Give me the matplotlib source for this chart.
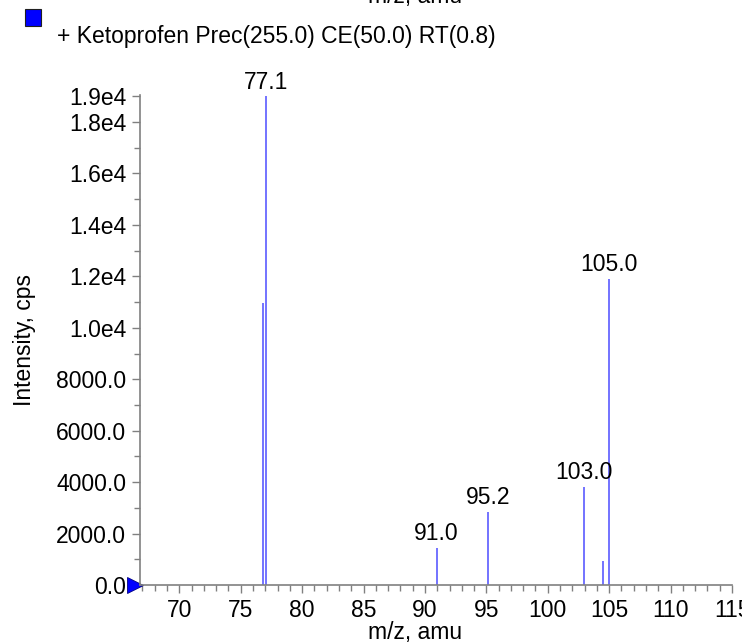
import matplotlib
matplotlib.use("Agg")
import matplotlib.pyplot as plt
import matplotlib.transforms as mtransforms
from matplotlib.ticker import MultipleLocator, FixedLocator, FuncFormatter

plt.rcParams["font.family"] = ["Liberation Sans", "DejaVu Sans"]

# peaks
mz        = [76.8, 77.05, 90.95, 95.15, 102.95, 104.5, 105.0]
intensity = [10950, 19000, 1430, 2850, 3800, 950, 11900]
labels    = {77.05: "77.1", 90.95: "91.0", 95.15: "95.2", 102.95: "103.0", 105.0: "105.0"}

y_ticks = [0, 2000, 4000, 6000, 8000, 10000, 12000, 14000, 16000, 18000, 19000]
legend_txt = "+ Ketoprofen Prec(255.0) CE(50.0) RT(0.8)"

FS = 16.5
GRAY = "#808080"

fig = plt.figure(figsize=(7.42, 6.43), dpi=100)
ax = fig.add_axes([140/742, 1 - 585/643, (732 - 140)/742, (585 - 95)/643])

ax.vlines(mz, 0, intensity, colors="#4d4dff", lw=1.1)

for x, y in zip(mz, intensity):
    if x in labels:
        ax.annotate(labels[x], (x, y), xytext=(0, 2), textcoords="offset points",
                    ha="center", va="bottom", fontsize=FS, color="black")

ax.set_xlim(66.8, 115)
ax.set_ylim(0, 19050)

ax.xaxis.set_major_locator(MultipleLocator(5))
ax.xaxis.set_minor_locator(MultipleLocator(1))
ax.yaxis.set_major_locator(FixedLocator(y_ticks))
ax.yaxis.set_minor_locator(MultipleLocator(1000))


def fmt_y(v, pos):
    if v < 10000:
        return f"{v:.1f}"
    return f"{v/1e4:.1f}e4"


ax.yaxis.set_major_formatter(FuncFormatter(fmt_y))
ax.xaxis.set_major_formatter(FuncFormatter(lambda v, p: f"{v:.0f}"))

for s in ["top", "right"]:
    ax.spines[s].set_visible(False)
for s in ["left", "bottom"]:
    ax.spines[s].set_color(GRAY)
    ax.spines[s].set_linewidth(1.2)

ax.tick_params(which="major", length=6, width=1, color=GRAY, labelsize=FS, pad=4)
ax.tick_params(which="minor", length=4, width=1, color=GRAY)

ax.set_xlabel("m/z, amu", fontsize=FS)
ax.set_ylabel("Intensity, cps", fontsize=FS)
ax.xaxis.set_label_coords((415 - 140) / 592, -(639 - 585) / 490)
ax.yaxis.set_label_coords(-(140 - 25) / 592, 0.5)
ax.xaxis.label.set_va("baseline")
ax.yaxis.label.set_va("center")

# blue triangle marker at the origin, sitting left of the y axis
tr = mtransforms.offset_copy(ax.transData, fig=fig, x=-5, y=0, units="dots")
ax.plot([ax.get_xlim()[0]], [0], marker=">", markersize=11, color="blue",
        markeredgecolor="#000080", markeredgewidth=0.6, transform=tr, clip_on=False)

# legend box and text
fig.patches.append(plt.Rectangle((25/742, 1 - 26/643), 16/742, 17/643,
                                 transform=fig.transFigure, facecolor="blue",
                                 edgecolor="#202020", lw=0.8))
fig.text(57/742, 1 - 36/643, legend_txt, fontsize=FS, va="center", ha="left")

# clipped axis title at the very top
fig.text(415/742, 1 + 4/643, "m/z, amu", fontsize=FS, va="center", ha="center")

fig.savefig("out.png", dpi=100)
